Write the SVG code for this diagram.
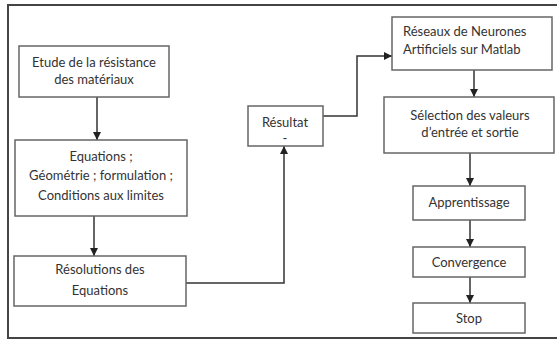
<svg xmlns="http://www.w3.org/2000/svg" width="557" height="341" viewBox="0 0 557 341">
<style>
.box{fill:#fff;stroke:#666;stroke-width:1.5}
.t{font-family:Lato,"Liberation Sans",sans-serif;font-size:13px;fill:#333}
.c{text-anchor:middle}
.ln{fill:none;stroke:#333;stroke-width:1.5}
</style>
<defs>
<marker id="ah" viewBox="0 0 8 8" refX="8" refY="4" markerWidth="8" markerHeight="8" markerUnits="userSpaceOnUse" orient="auto">
<path d="M0,0 L8,4 L0,8 Z" fill="#222"/>
</marker>
</defs>
<rect width="557" height="341" fill="#fff"/>
<path d="M557,5 H8 V338 H557" fill="none" stroke="#444" stroke-width="2"/>
<g id="connectors">
<line class="ln" x1="97" y1="97" x2="97" y2="140" marker-end="url(#ah)"/>
<line class="ln" x1="94" y1="216" x2="94" y2="256" marker-end="url(#ah)"/>
<path class="ln" d="M186,283 H284 V146" marker-end="url(#ah)"/>
<path class="ln" d="M323,116 H357 V56 H392" marker-end="url(#ah)"/>
<line class="ln" x1="474" y1="70" x2="474" y2="97" marker-end="url(#ah)"/>
<line class="ln" x1="470" y1="153" x2="470" y2="186" marker-end="url(#ah)"/>
<line class="ln" x1="470" y1="220" x2="470" y2="247" marker-end="url(#ah)"/>
<line class="ln" x1="470" y1="277" x2="470" y2="303" marker-end="url(#ah)"/>
</g>
<g id="etude">
<rect class="box" x="19" y="46" width="150" height="51"/>
<text class="t c" x="94" y="67">Etude de la résistance</text>
<text class="t c" x="94" y="84">des matériaux</text>
</g>
<g id="equations">
<rect class="box" x="15" y="140" width="172" height="76"/>
<text class="t c" x="101" y="161">Equations ;</text>
<text class="t c" x="101" y="180">Géométrie ; formulation ;</text>
<text class="t c" x="101" y="200">Conditions aux limites</text>
</g>
<g id="resolutions">
<rect class="box" x="14" y="256" width="172" height="50"/>
<text class="t c" x="100" y="274">Résolutions des</text>
<text class="t c" x="100" y="295">Equations</text>
</g>
<g id="resultat">
<rect class="box" x="248" y="106" width="75" height="40"/>
<text class="t c" x="285" y="127">Résultat</text>
<text class="t c" x="285" y="143">-</text>
</g>
<g id="reseaux">
<rect class="box" x="392" y="17" width="160" height="53"/>
<text class="t" x="403" y="36">Réseaux de Neurones</text>
<text class="t" x="403" y="54">Artificiels sur Matlab</text>
</g>
<g id="selection">
<rect class="box" x="384" y="97" width="170" height="56"/>
<text class="t c" x="470" y="120">Sélection des valeurs</text>
<text class="t c" x="470" y="137">d’entrée et sortie</text>
</g>
<g id="apprentissage">
<rect class="box" x="413" y="186" width="112" height="34"/>
<text class="t c" x="469" y="207">Apprentissage</text>
</g>
<g id="convergence">
<rect class="box" x="413" y="247" width="112" height="30"/>
<text class="t c" x="469" y="267">Convergence</text>
</g>
<g id="stop">
<rect class="box" x="413" y="303" width="112" height="30"/>
<text class="t c" x="469" y="323">Stop</text>
</g>
</svg>
